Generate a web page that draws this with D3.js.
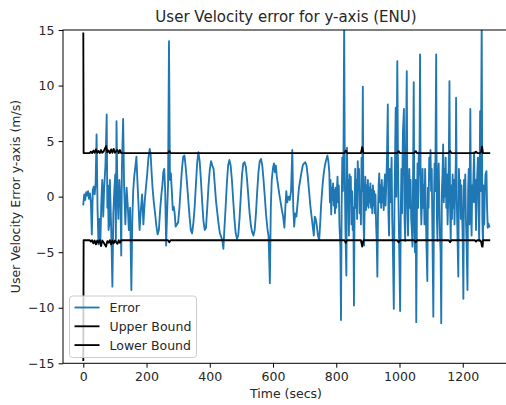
<!DOCTYPE html>
<html>
<head>
<meta charset="utf-8">
<script src="https://cdn.jsdelivr.net/npm/d3@7"></script>
<style>
  html, body { margin: 0; padding: 0; background: #fff; }
  svg { display: block; font-family: "DejaVu Sans", sans-serif; }
</style>
</head>
<body>
<svg id="chart" width="506" height="405"></svg>
<script>
// Velocity error (m/s) sampled over time (s)
const errorSeries = [
  [0,-0.7],[3,0.2],[6,-0.3],[9,0.4],[12,0.1],[15,0.5],[18,-0.2],[21,0.3],[24,-0.5],[27,-3.4],
  [30,0.6],[33,0.9],[36,0.2],[39,1.2],[42,5.6],[45,-1.0],[48,-4.3],[51,-2.0],[54,-4.1],[57,-0.5],
  [60,1.5],[63,-1.8],[66,0.8],[70,2.8],[74,7.4],[76,-1.0],[78,1.0],[80,-3.0],[82,-2.5],[84,1.5],[86,-0.6],[89,-3.8],[92,-8.1],
  [95,-1.5],[98,0.5],[101,2.0],[103,-4.0],[105,6.8],[108,0.3],[111,-2.0],[114,1.5],[118,-1.0],[120,-5.3],[122,2.5],[126,7.0],
  [129,1.0],[133,-2.5],[137,0.8],[141,-1.0],[144,-3.0],[148,-1.0],[152,-8.4],[155,-2.0],[158,0.6],[161,1.8],
  [165,2.8],[168,3.6],[171,1.5],[175,-1.0],[178,-3.0],[182,-1.2],[186,0.2],[190,-2.5],[194,-0.5],[198,0.8],
  [202,2.0],[206,3.5],[210,4.3],[213,3.8],[216,2.2],[219,0.8],[223,-0.5],[227,-1.5],[231,-2.6],[235,-3.4],
  [239,-3.0],[243,-1.2],[247,0.2],[250,1.0],[253,2.2],[256,2.5],[259,0.5],[262,-4.4],[265,-1.5],[268,1.0],
  [271,14.0],[274,1.5],[277,2.1],[280,0.5],[283,-1.2],[286,-0.9],[289,-1.5],[292,-2.7],[296,-2.5],[300,-2.3],
  [304,-1.0],[308,0.8],[312,2.5],[316,3.6],[320,3.7],[324,2.6],[328,1.2],[332,-0.3],[336,-1.8],[340,-3.0],
  [344,-3.3],[348,-2.4],[352,-1.0],[356,1.0],[360,3.0],[364,4.0],[368,3.2],[372,1.5],[376,-0.5],[380,-2.2],
  [384,-3.0],[388,-2.8],[392,-1.0],[396,1.0],[400,2.4],[404,3.2],[408,2.8],[412,2.5],[416,1.0],[420,-0.5],
  [424,-1.5],[428,-2.5],[432,-3.3],[436,-3.6],[440,-4.0],[443,-4.7],[446,-3.0],[450,-1.0],[454,1.2],[458,2.8],
  [462,3.3],[466,2.8],[470,1.5],[474,-0.3],[478,-2.0],[482,-3.3],[486,-3.8],[490,-3.5],[494,-2.0],[498,0.0],
  [502,2.0],[506,3.0],[510,3.1],[514,2.7],[518,1.5],[522,0.0],[526,-1.5],[530,-2.6],[534,-3.2],[538,-3.5],
  [542,-3.0],[546,-1.5],[550,0.5],[554,2.2],[558,3.2],[562,3.4],[566,2.8],[570,1.5],[574,0.0],[578,-1.6],
  [582,-2.8],[586,-3.6],[590,-7.8],[593,-1.0],[596,1.5],[600,2.6],[603,3.0],[606,2.2],[609,2.8],[612,1.8],
  [616,1.0],[620,0.2],[624,-0.5],[628,-1.2],[632,-1.8],[636,-2.8],[639,-1.0],[642,0.5],[645,-0.5],[649,0.0],
  [653,-0.3],[657,0.5],[661,4.2],[664,-1.0],[667,-2.7],[670,-1.5],[674,-1.8],[678,-0.5],[682,0.8],[686,1.5],
  [690,2.2],[694,2.8],[698,3.0],[702,3.1],[706,2.8],[710,1.8],[714,0.5],[718,-0.8],[722,-1.8],[726,-2.8],
  [729,-3.5],[732,-1.8],[735,-2.0],[738,-2.5],[742,-3.5],[746,-3.9],[749,-2.5],[752,-0.8],[756,0.8],[760,2.0],
  [764,2.8],[768,3.3],[772,3.7],[775,3.2],[778,2.2],[780,-0.5],[782,1.5],[784,-1.6],[786,0.8],[788,-0.3],
  [790,1.2],[792,-0.8],[794,0.6],[796,-1.5],[798,0.8],[800,-1.0],[802,0.6],[804,1.8],[806,-0.5],[808,1.0],
  [810,-2.5],[813,-4.5],[815,-11.1],[817,-1.0],[819,3.5],[821,0.5],[823,4.5],[825,16.0],[827,2.0],[829,-3.0],
  [832,-7.1],[834,4.4],[836,-0.5],[838,1.5],[840,-3.5],[842,2.0],[844,-0.5],[846,1.8],[848,-2.5],[850,0.5],
  [852,-3.0],[854,-1.0],[856,-9.8],[858,-0.5],[860,2.5],[862,-1.0],[864,1.5],[866,-2.0],[868,3.2],[870,0.5],
  [872,2.5],[874,-1.5],[876,0.5],[878,-2.5],[880,3.5],[882,0.5],[884,9.9],[886,-2.0],[888,-4.4],[890,-0.5],
  [892,1.8],[894,-1.2],[896,1.0],[898,-0.8],[900,1.5],[902,-1.0],[904,0.8],[906,-0.5],[908,1.2],[910,-1.0],
  [912,0.6],[914,-1.5],[916,1.0],[918,-0.8],[920,0.5],[922,-1.5],[924,0.2],[926,-2.5],[928,-4.0],[930,-7.2],
  [932,-1.5],[934,1.0],[936,2.1],[938,-0.5],[940,1.0],[942,-1.0],[944,1.5],[946,-0.5],[948,0.8],[950,-1.2],
  [952,1.0],[954,2.0],[956,-0.8],[958,1.0],[960,3.0],[963,8.3],[965,-1.5],[967,-3.5],[969,2.5],[971,-0.5],
  [973,1.5],[975,3.5],[977,-2.0],[979,-4.5],[982,-10.1],[984,-1.0],[986,3.5],[988,8.0],[990,0.0],[993,12.2],
  [995,4.0],[997,-1.0],[999,-4.5],[1002,-10.3],[1004,-1.5],[1006,2.5],[1008,-1.5],[1010,4.0],[1011,5.9],[1014,7.9],
  [1016,-2.0],[1018,-4.0],[1020,2.5],[1023,11.3],[1025,-1.0],[1027,-3.5],[1029,0.5],[1031,2.5],[1033,-1.0],[1035,1.5],
  [1037,-2.0],[1039,-3.0],[1041,-4.5],[1043,2.0],[1045,10.3],[1047,-2.5],[1049,-5.0],[1051,1.5],[1053,-11.3],[1055,-1.5],
  [1057,3.0],[1059,-1.0],[1061,4.0],[1063,2.0],[1065,12.8],[1067,0.5],[1069,-2.5],[1071,-0.5],[1073,2.5],[1075,-1.0],
  [1077,1.0],[1079,-2.5],[1081,2.5],[1083,-0.5],[1085,-4.0],[1088,-7.6],[1090,0.8],[1092,-1.0],[1094,3.5],[1096,1.5],
  [1098,4.2],[1100,0.5],[1102,2.5],[1104,-3.0],[1107,-10.8],[1109,-0.5],[1111,3.0],[1113,0.5],[1116,12.8],[1118,-1.5],
  [1120,-4.0],[1122,1.5],[1124,3.0],[1126,-0.5],[1128,-3.5],[1130,-5.0],[1132,-11.4],[1134,0.5],[1136,2.0],[1138,4.7],
  [1140,-0.5],[1142,2.5],[1144,0.0],[1146,3.5],[1148,-1.0],[1150,2.0],[1152,-2.5],[1154,-0.5],[1156,3.5],[1158,10.4],
  [1160,-1.0],[1162,-4.0],[1164,1.0],[1166,-2.0],[1168,2.0],[1170,-1.0],[1172,1.5],[1174,-2.5],[1176,1.0],[1178,3.0],
  [1179,8.9],[1181,0.0],[1183,-3.0],[1186,-7.2],[1188,2.5],[1190,-0.5],[1192,1.5],[1194,-2.0],[1196,1.0],[1198,-1.5],
  [1200,-4.0],[1202,-9.2],[1204,1.5],[1206,-1.0],[1208,2.0],[1210,-2.0],[1212,-4.0],[1215,-8.4],[1217,0.5],[1219,2.5],
  [1221,-2.5],[1224,7.9],[1226,-1.0],[1228,-3.5],[1230,1.0],[1232,-0.5],[1234,2.0],[1236,4.0],[1238,-0.5],[1240,1.5],
  [1242,-3.0],[1244,0.5],[1246,2.0],[1248,3.5],[1250,-1.0],[1252,-4.0],[1255,7.7],[1257,0.5],[1260,16.0],[1262,-2.0],
  [1264,-4.5],[1266,1.0],[1268,-2.5],[1270,0.5],[1272,2.0],[1275,2.3],[1277,-1.0],[1279,-2.8],[1281,-2.4],[1284,-2.7]
];

// Protection bounds (m/s)
const boundTime = [0, 1, 20, 24, 28, 32, 36, 40, 44, 48, 52, 56, 60, 64, 68, 72, 76, 80, 84, 88,
  92, 96, 100, 104, 108, 112, 116, 120, 268, 272, 276, 826, 830, 834, 878, 882, 886, 993, 997, 1001,
  1047, 1051, 1055, 1156, 1160, 1164, 1238, 1242, 1246, 1254, 1258, 1261, 1264, 1284];
const upperBound = [14.7, 3.92, 3.92, 4.05, 3.92, 4.15, 3.95, 4.25, 3.95, 4.1, 3.92, 4.2, 3.95, 4.05, 4.3, 4.55, 4.0, 4.15, 3.92, 4.25,
  3.95, 4.3, 3.95, 4.1, 4.2, 3.92, 4.2, 3.92, 3.92, 4.1, 3.92, 3.92, 4.15, 3.92, 3.92, 4.45, 3.92, 3.92, 4.1, 3.92,
  3.92, 4.1, 3.92, 3.92, 4.1, 3.92, 3.92, 4.05, 3.92, 3.92, 4.0, 4.5, 3.92, 3.92];
const lowerBound = [-14.7, -3.92, -3.92, -4.05, -3.92, -4.2, -3.95, -4.3, -3.95, -4.15, -3.92, -4.45, -3.95, -4.1, -4.3, -4.5, -4.0, -4.15, -3.92, -4.3,
  -3.95, -4.2, -3.95, -4.1, -4.25, -3.92, -4.15, -3.92, -3.92, -4.1, -3.92, -3.92, -4.15, -3.92, -3.92, -4.5, -3.92, -3.92, -4.1, -3.92,
  -3.92, -4.1, -3.92, -3.92, -4.1, -3.92, -3.92, -4.05, -3.92, -3.92, -4.05, -4.5, -3.92, -3.92];

const xTicks = [0, 200, 400, 600, 800, 1000, 1200];
const yTicks = [-15, -10, -5, 0, 5, 10, 15];
const legendLabels = ["Error", "Upper Bound", "Lower Bound"];
const seriesColors = ["#1f77b4", "#000000", "#000000"];

const svg = d3.select("#chart");
const plot = { left: 63, right: 509.6, top: 30, bottom: 363.3 };

const x = d3.scaleLinear().domain([-64.2, 1348.2]).range([plot.left, plot.right]);
const y = d3.scaleLinear().domain([-15, 15]).range([plot.bottom, plot.top]);

svg.append("defs").append("clipPath").attr("id", "plotClip")
  .append("rect")
  .attr("x", plot.left).attr("y", plot.top)
  .attr("width", plot.right - plot.left).attr("height", plot.bottom - plot.top);

const line = d3.line().x(d => x(d[0])).y(d => y(d[1]));
const boundsUpper = boundTime.map((t, i) => [t, upperBound[i]]);
const boundsLower = boundTime.map((t, i) => [t, lowerBound[i]]);

const g = svg.append("g").attr("clip-path", "url(#plotClip)");
[errorSeries, boundsUpper, boundsLower].forEach((data, i) => {
  g.append("path")
    .datum(data)
    .attr("d", line)
    .attr("fill", "none")
    .attr("stroke", seriesColors[i])
    .attr("stroke-width", 1.85)
    .attr("stroke-linejoin", "round")
    .attr("stroke-linecap", "square");
});

// Axes
const fmt = d => d < 0 ? "\u2212" + Math.abs(d) : String(d);
const xAxis = svg.append("g")
  .attr("transform", `translate(0,${plot.bottom})`)
  .call(d3.axisBottom(x).tickValues(xTicks).tickFormat(fmt).tickSize(4.4).tickPadding(4.2));
const yAxis = svg.append("g")
  .attr("transform", `translate(${plot.left},0)`)
  .call(d3.axisLeft(y).tickValues(yTicks).tickFormat(fmt).tickSize(4.4).tickPadding(4.2));
[xAxis, yAxis].forEach(a => {
  a.select(".domain").remove();
  a.selectAll(".tick line").attr("stroke", "#000").attr("stroke-width", 1);
  a.selectAll(".tick text").attr("fill", "#262626").style("font-size", "12.5px")
    .style("font-family", "DejaVu Sans");
});

// Frame
svg.append("rect")
  .attr("x", plot.left).attr("y", plot.top)
  .attr("width", plot.right - plot.left).attr("height", plot.bottom - plot.top)
  .attr("fill", "none").attr("stroke", "#000").attr("stroke-width", 1);

// Titles
svg.append("text")
  .attr("x", 286).attr("y", 22)
  .attr("text-anchor", "middle")
  .style("font-size", "15px").attr("fill", "#262626")
  .text("User Velocity error for y-axis (ENU)");
svg.append("text")
  .attr("x", 286).attr("y", 397.5)
  .attr("text-anchor", "middle")
  .style("font-size", "12.5px").attr("fill", "#262626")
  .text("Time (secs)");
svg.append("text")
  .attr("transform", "translate(19.5,196.6) rotate(-90)")
  .attr("text-anchor", "middle")
  .style("font-size", "12.5px").attr("fill", "#262626")
  .text("User Velocity Error y-axis (m/s)");

// Legend
const legend = svg.append("g");
legend.append("rect")
  .attr("x", 69.5).attr("y", 296).attr("width", 127).attr("height", 61.5)
  .attr("rx", 3).attr("fill", "#fff").attr("fill-opacity", 0.8)
  .attr("stroke", "#cccccc").attr("stroke-width", 1);
legendLabels.forEach((label, i) => {
  const ly = 307.5 + i * 18.8;
  legend.append("line")
    .attr("x1", 74.5).attr("x2", 99.5).attr("y1", ly).attr("y2", ly)
    .attr("stroke", seriesColors[i]).attr("stroke-width", 1.85);
  legend.append("text")
    .attr("x", 109.5).attr("y", ly + 4.5)
    .style("font-size", "12.5px").attr("fill", "#262626")
    .text(label);
});
</script>
</body>
</html>
